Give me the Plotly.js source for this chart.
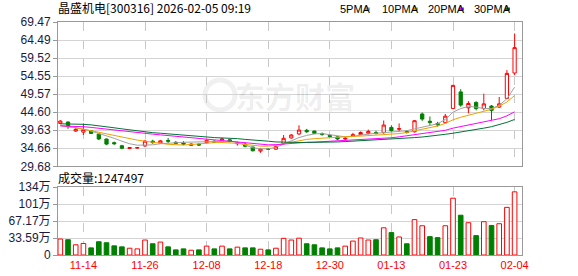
<!DOCTYPE html>
<html><head><meta charset="utf-8">
<script src="https://cdn.plot.ly/plotly-3.0.1.min.js"></script>
<style>html,body{margin:0;padding:0;background:#fff}#chart{width:578px;height:276px}</style>
</head><body><div id="chart"></div>
<script>
// ---- data ----
const dates = ['11-11','11-12','11-13','11-14','11-17','11-18','11-19','11-20','11-21','11-24','11-25','11-26','11-27','11-28',
'12-01','12-02','12-03','12-04','12-05','12-08','12-09','12-10','12-11','12-12','12-15','12-16','12-17','12-18','12-19','12-22','12-23','12-24','12-25','12-26','12-29','12-30','12-31',
'01-05','01-06','01-07','01-08','01-09','01-12','01-13','01-14','01-15','01-16','01-19','01-20','01-21','01-22','01-23','01-26','01-27','01-28','01-29','01-30',
'02-02','02-03','02-04'];
const open  = [41.5,41.9,39.4,39.1,39.5,38.55,37.2,36.2,35.35,34.6,34.7,35.3,36.6,36.1,36.8,36.3,36.1,35.45,35.8,36.2,
36.6,36.9,37.0,35.9,35.8,35.0,33.9,34.55,34.4,36.0,37.5,38.6,39.6,39.4,38.7,38.2,37.8,37.2,38.0,38.4,
38.8,39.0,38.95,40.4,39.9,39.3,39.2,44.1,42.1,41.5,41.7,45.6,50.2,45.8,47.3,45.6,46.3,46.0,48.4,55.4];
const high  = [42.4,42.0,40.6,41.5,39.7,38.7,37.3,36.5,35.6,35.0,35.0,37.0,37.0,36.9,37.5,36.6,36.6,36.0,36.0,37.1,
36.8,37.5,37.1,36.5,36.1,35.1,34.6,34.7,35.3,38.3,38.6,41.0,40.0,39.5,39.0,38.5,38.0,37.8,38.9,39.3,
39.8,39.5,42.3,41.0,41.5,39.6,42.4,44.5,43.4,41.95,44.1,52.1,50.95,47.65,47.6,49.7,46.55,48.8,56.2,66.3];
const low   = [41.3,40.0,39.2,38.3,38.6,36.9,35.5,35.6,34.4,34.4,34.5,35.0,35.9,35.9,36.1,35.8,35.5,35.3,35.3,36.0,
36.1,36.7,36.3,35.4,34.9,33.8,33.4,34.2,34.2,35.7,37.3,38.3,38.9,38.6,38.1,37.6,36.9,36.9,37.8,38.3,
38.5,38.5,38.7,39.2,39.2,38.7,39.0,42.2,41.0,40.6,41.6,45.5,46.1,44.3,45.1,45.1,42.4,45.8,48.2,54.8];
const close = [42.15,40.6,39.85,39.8,38.75,37.2,35.8,35.9,34.65,34.85,34.85,36.6,36.2,36.7,36.6,36.0,35.8,35.8,35.55,36.85,
36.3,37.2,36.5,36.2,35.2,33.95,34.4,34.4,35.1,37.4,38.3,39.67,39.2,38.76,38.5,37.9,37.2,37.4,38.4,39.0,
39.3,38.7,41.05,39.5,40.05,39.0,42.25,42.7,41.8,41.1,43.5,52.0,46.55,47.0,45.6,46.9,45.1,46.9,55.3,62.4];
const ma5  = [41.0,40.7,40.3,39.9,39.4,38.8,38.2,37.4,36.6,35.9,35.5,35.5,35.6,35.9,36.1,36.25,36.3,36.35,36.4,36.45,
36.6,36.7,36.6,36.3,35.5,34.8,34.5,34.5,34.9,35.8,36.8,37.6,38.2,38.6,38.7,38.5,38.1,37.8,37.9,38.3,
38.6,38.8,38.95,39.1,39.3,39.5,40.0,40.5,41.0,41.4,42.6,44.6,45.6,46.2,46.0,45.6,45.6,46.5,48.3,51.5];
const ma10 = [41.0,40.7,40.3,39.9,39.5,39.05,38.6,38.15,37.7,37.3,36.9,36.6,36.3,36.0,35.75,35.65,35.55,35.7,35.9,36.05,
36.2,36.25,36.2,36.0,35.7,35.45,35.25,35.25,35.45,35.9,36.3,36.8,37.1,37.3,37.45,37.6,37.75,37.85,37.95,38.0,
38.1,38.2,38.35,38.5,38.7,39.0,39.4,39.9,40.3,40.8,41.5,42.5,43.2,43.7,44.3,44.9,45.4,46.3,47.4,49.2];
const ma20 = [40.8,40.8,40.75,40.6,40.4,40.15,39.9,39.6,39.35,39.1,38.9,38.7,38.55,38.35,38.15,37.9,37.7,37.45,37.25,37.05,
36.85,36.7,36.55,36.35,36.0,35.8,35.65,35.6,35.65,35.85,36.05,36.2,36.3,36.35,36.45,36.55,36.65,36.75,36.85,36.95,
37.1,37.2,37.4,37.55,37.8,38.1,38.4,38.7,38.95,39.25,39.6,40.2,40.6,41.0,41.5,41.9,42.3,42.8,43.6,44.7];
const ma30 = [41.4,41.4,41.35,41.25,41.1,40.9,40.6,40.3,40.0,39.7,39.4,39.15,38.95,38.8,38.6,38.4,38.25,38.0,37.85,37.7,
37.6,37.5,37.45,37.3,37.1,37.0,36.8,36.6,36.4,36.3,36.25,36.25,36.25,36.25,36.25,36.3,36.4,36.5,36.6,36.75,
36.9,37.0,37.15,37.3,37.4,37.5,37.6,37.75,37.95,38.2,38.5,38.8,39.1,39.4,39.8,40.2,40.6,41.1,41.8,42.6];
// volume in 万
const volume = [31.6,30.2,20.2,22.8,14.1,26.2,24.2,18.1,16.1,13.4,12.1,29.6,22.2,25.5,16.1,10.1,12.1,9.4,10.1,17.5,
12.1,17.5,12.1,15.5,14.1,14.1,11.4,10.1,13.4,32.9,29.6,33.2,22.2,20.2,14.1,12.1,14.1,17.5,27.5,33.6,
29.6,30.2,53.7,44.3,35.6,22.2,69.9,57.8,36.3,34.3,57.8,112.2,78.6,63.8,38.3,65.8,58.4,61.8,94.1,124.75];
const volUp = [1,0,1,1,0,0,0,0,0,1,1,1,0,1,0,0,0,1,0,1,0,1,0,1,0,0,1,0,1,1,1,1,0,0,0,0,0,1,1,1,1,0,1,0,1,0,1,1,0,0,1,1,0,1,0,1,0,1,1,1];
const priceTicks = [29.68,34.66,39.63,44.60,49.57,54.55,59.52,64.49,69.47];
const volTickVals = [0,33.59,67.17,100.76,134.35];
const volTickText = ['0','33.59万','67.17万','101万','134万'];
const labelIdx = [3,11,19,27,35,43,51,59];
const maNames = ['5PMA','10PMA','20PMA','30PMA'];
const maColors = ['#a0a0a0','#f0a000','#ff00ff','#007236'];
const titleText = '晶盛机电[300316] 2026-02-05 09:19';
const volLabel = '成交量:1247497';

// ---- layout helpers ----
const W=578,H=276,L=58,R=56,T=22,B=21;
const pw=W-L-R, ph=H-T-B;
const px=x=>(x-L)/pw, py=y=>(H-B-y)/ph;
const idx = dates.map((d,i)=>i);
const RED='#ff0000', GRN='#008000';

const maTraces=[ma5,ma10,ma20,ma30].map((m,k)=>({type:'scatter',mode:'lines',x:idx,y:m,
  line:{color:maColors[k],width:1},xaxis:'x',yaxis:'y',hoverinfo:'skip'}));

const candle={type:'candlestick',x:idx,open:open,high:high,low:low,close:close,xaxis:'x',yaxis:'y',
  increasing:{line:{color:RED,width:1},fillcolor:'#ffffff'},
  decreasing:{line:{color:GRN,width:1},fillcolor:GRN},whiskerwidth:0,hoverinfo:'skip'};

const vol={type:'bar',x:idx,y:volume,xaxis:'x2',yaxis:'y2',width:0.6,
  marker:{color:volUp.map(u=>u?'#ffffff':GRN),line:{color:volUp.map(u=>u?RED:GRN),width:1}},hoverinfo:'skip'};

const fontLat='Liberation Sans, Arial, Noto Sans CJK SC, sans-serif';
const xr=[-0.3,59.96];
const xcommon={range:xr,type:'linear',tickvals:labelIdx,ticktext:labelIdx.map(i=>dates[i]),
  showgrid:true,gridcolor:'#c8c8c8',griddash:'dash',gridwidth:1,zeroline:false,
  showline:true,mirror:true,linecolor:'#999',linewidth:1,ticks:'',fixedrange:true};

const annotations=[
  {text:titleText,xref:'paper',yref:'paper',x:px(56),y:py(7.5),xanchor:'left',yanchor:'middle',showarrow:false,
   font:{family:'Noto Sans CJK SC, sans-serif',size:12,color:'#000'}},
  {text:volLabel,xref:'paper',yref:'paper',x:px(56),y:py(177),xanchor:'left',yanchor:'middle',showarrow:false,
   font:{family:'Noto Sans CJK SC, sans-serif',size:12,color:'#000'}},
  {text:'东方财富',xref:'paper',yref:'paper',x:px(295),y:py(95),xanchor:'center',yanchor:'middle',showarrow:false,
   font:{family:'Noto Sans CJK SC, sans-serif',size:30,color:'rgba(0,0,0,0.07)',weight:700}}
];
const legX=[338,380,426,472], sqX=[365,413,459,505];
const shapes=[];
maNames.forEach((n,k)=>{
  annotations.push({text:n,xref:'paper',yref:'paper',x:px(legX[k]),y:py(9),xanchor:'left',yanchor:'middle',showarrow:false,
    font:{family:'Liberation Sans, Arial, sans-serif',size:11,color:'#000'}});
  shapes.push({type:'rect',xref:'paper',yref:'paper',x0:px(sqX[k]),x1:px(sqX[k]+5),y0:py(10.5),y1:py(7.5),
    fillcolor:maColors[k],line:{width:0}});
});
// watermark logo ring
shapes.push({type:'circle',xref:'paper',yref:'paper',x0:px(205),x1:px(235),y0:py(110),y1:py(80),
  line:{color:'rgba(0,0,0,0.06)',width:5},fillcolor:'rgba(0,0,0,0)',layer:'below'});

const layout={width:W,height:H,margin:{l:L,r:R,t:T,b:B},paper_bgcolor:'#fff',plot_bgcolor:'#fff',
  showlegend:false,boxgap:0.4,
  xaxis:Object.assign({},xcommon,{anchor:'y',showticklabels:false,rangeslider:{visible:false}}),
  xaxis2:Object.assign({},xcommon,{anchor:'y2',showticklabels:true,
    tickfont:{family:fontLat,size:11,color:'#ff0000'}}),
  yaxis:{domain:[1-(166.3-T)/ph,1],range:[29.68,69.47],tickvals:priceTicks,ticktext:priceTicks.map(v=>v.toFixed(2)),
    showgrid:true,gridcolor:'#d4d4d4',gridwidth:1,zeroline:false,showline:true,mirror:true,linecolor:'#999',linewidth:1,
    ticks:'outside',ticklen:4,tickcolor:'#999',tickfont:{family:fontLat,size:12,color:'#1a1a40'},fixedrange:true},
  yaxis2:{domain:[0,(H-B-187)/ph],range:[0,134.35],tickvals:volTickVals,ticktext:volTickText,
    showgrid:true,gridcolor:'#d4d4d4',gridwidth:1,zeroline:false,showline:true,mirror:true,linecolor:'#999',linewidth:1,
    ticks:'outside',ticklen:4,tickcolor:'#999',tickfont:{family:fontLat,size:12,color:'#1a1a40'},fixedrange:true},
  annotations:annotations,shapes:shapes};

Plotly.newPlot('chart',[...maTraces,candle,vol],layout,{staticPlot:true,displayModeBar:false});
</script></body></html>
